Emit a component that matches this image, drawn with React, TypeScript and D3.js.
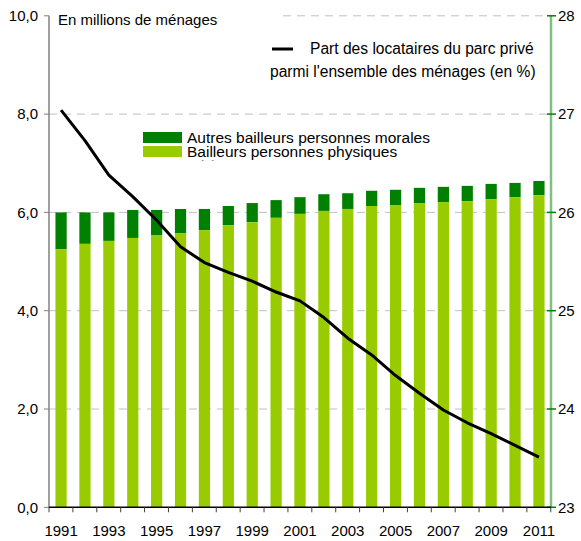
import React from "react";
import * as d3 from "d3";

// years, bars (millions of households) and share line (%)
const years = d3.range(1991, 2012).map(String);
const totalBailleurs = [6.0, 6.0, 6.0, 6.05, 6.05, 6.07, 6.07, 6.13, 6.19, 6.25, 6.31, 6.37, 6.39, 6.44, 6.46, 6.5, 6.52, 6.54, 6.58, 6.6, 6.64];
const physiques = [5.25, 5.36, 5.42, 5.48, 5.54, 5.58, 5.64, 5.74, 5.8, 5.89, 5.97, 6.03, 6.07, 6.13, 6.15, 6.19, 6.21, 6.23, 6.27, 6.31, 6.35];
const partLocataires = [27.04, 26.73, 26.38, 26.16, 25.92, 25.65, 25.49, 25.39, 25.3, 25.19, 25.1, 24.93, 24.72, 24.55, 24.34, 24.16, 23.99, 23.86, 23.75, 23.63, 23.51];
const leftTicks = [0, 2, 4, 6, 8, 10];
const rightTicks = [23, 24, 25, 26, 27, 28];

const FONT = "Liberation Sans, Arial, sans-serif";
const DARK = "#008000";
const LIGHT = "#99cc00";

export default function App() {
  const width = 581;
  const height = 541;
  const m = { left: 49, right: 551, top: 15.8, bottom: 507.3 };

  const x = d3.scaleBand().domain(years).range([m.left, m.right]).paddingInner(0.53).paddingOuter(0.27);
  const step = x.step();
  const yL = d3.scaleLinear().domain([0, 10]).range([m.bottom, m.top]);
  const yR = d3.scaleLinear().domain([23, 28]).range([m.bottom, m.top]);

  const line = d3
    .line<number>()
    .x((_, i) => (x(years[i]) as number) + x.bandwidth() / 2)
    .y((d) => yR(d));

  const fmt = (v: number) => v.toFixed(1).replace(".", ",");
  const boundaries = d3.range(years.length + 1).map((i) => m.left + i * step);

  return (
    <svg width={width} height={height} style={{ position: "absolute", left: 0, top: 0, fontFamily: FONT }}>
      <rect width={width} height={height} fill="#fff" />
      <defs>
        <clipPath id="clip3">
          <rect x={180} y={157} width={200} height={3.5} />
        </clipPath>
      </defs>

      {/* gridlines */}
      {leftTicks.filter((t) => t > 0).map((t) => (
        <line
          key={t}
          x1={t === 10 ? 283 : m.left}
          x2={m.right}
          y1={yL(t)}
          y2={yL(t)}
          stroke="#c0c0c0"
          strokeWidth={1}
          strokeDasharray="8,6"
        />
      ))}

      {/* bars */}
      {years.map((yr, i) => (
        <g key={yr}>
          <rect x={x(yr)} width={x.bandwidth()} y={yL(totalBailleurs[i])} height={yL(physiques[i]) - yL(totalBailleurs[i])} fill={DARK} />
          <rect x={x(yr)} width={x.bandwidth()} y={yL(physiques[i])} height={yL(0) - yL(physiques[i])} fill={LIGHT} />
        </g>
      ))}

      {/* share line */}
      <path d={line(partLocataires) || ""} fill="none" stroke="#000" strokeWidth={3} strokeLinejoin="round" />

      {/* left axis */}
      <line x1={m.left} x2={m.left} y1={m.top} y2={m.bottom} stroke="#808080" strokeWidth={1.5} />
      {leftTicks.map((t) => (
        <g key={t}>
          <line x1={m.left - 5} x2={m.left} y1={yL(t)} y2={yL(t)} stroke="#808080" />
          <text x={38} y={yL(t)} dy="0.35em" textAnchor="end" fontSize={15} fill="#000">
            {fmt(t)}
          </text>
        </g>
      ))}

      {/* right axis */}
      <line x1={m.right} x2={m.right} y1={m.top} y2={m.bottom} stroke="#80c080" strokeWidth={2.5} />
      {rightTicks.map((t) => (
        <g key={t}>
          <line x1={m.right - 4} x2={m.right + 5} y1={yR(t)} y2={yR(t)} stroke={DARK} strokeWidth={1.5} />
          <text x={558} y={yR(t)} dy="0.35em" fontSize={15} fill="#000">
            {t}
          </text>
        </g>
      ))}

      {/* x axis */}
      <line x1={m.left} x2={m.right} y1={m.bottom} y2={m.bottom} stroke="#000" strokeWidth={1.5} />
      {boundaries.map((bx, i) => (
        <line key={i} x1={bx} x2={bx} y1={m.bottom} y2={m.bottom + 5} stroke="#404040" />
      ))}
      {years.map((yr, i) =>
        i % 2 === 0 ? (
          <text key={yr} x={(x(yr) as number) + x.bandwidth() / 2} y={536} textAnchor="middle" fontSize={15} fill="#000">
            {yr}
          </text>
        ) : null
      )}

      {/* titles & legends */}
      <text x={58} y={25} fontSize={15} fill="#000">En millions de ménages</text>

      <line x1={272} x2={293} y1={49} y2={49} stroke="#000" strokeWidth={3} />
      <text x={310} y={54} fontSize={15.6} fill="#000">Part des locataires du parc privé</text>
      <text x={270} y={77} fontSize={15.6} fill="#000">parmi l'ensemble des ménages (en %)</text>

      <rect x={143} y={132} width={39} height={11} fill={DARK} />
      <rect x={143} y={146} width={39} height={11} fill={LIGHT} />
      <text x={187} y={142.5} fontSize={15.5} fill="#000">Autres bailleurs personnes morales</text>
      <text x={187} y={156.5} fontSize={15.5} fill="#000">Bailleurs personnes physiques</text>
      <text x={187} y={170.5} fontSize={15.5} fill="#000" clipPath="url(#clip3)">Série 3</text>
    </svg>
  );
}
